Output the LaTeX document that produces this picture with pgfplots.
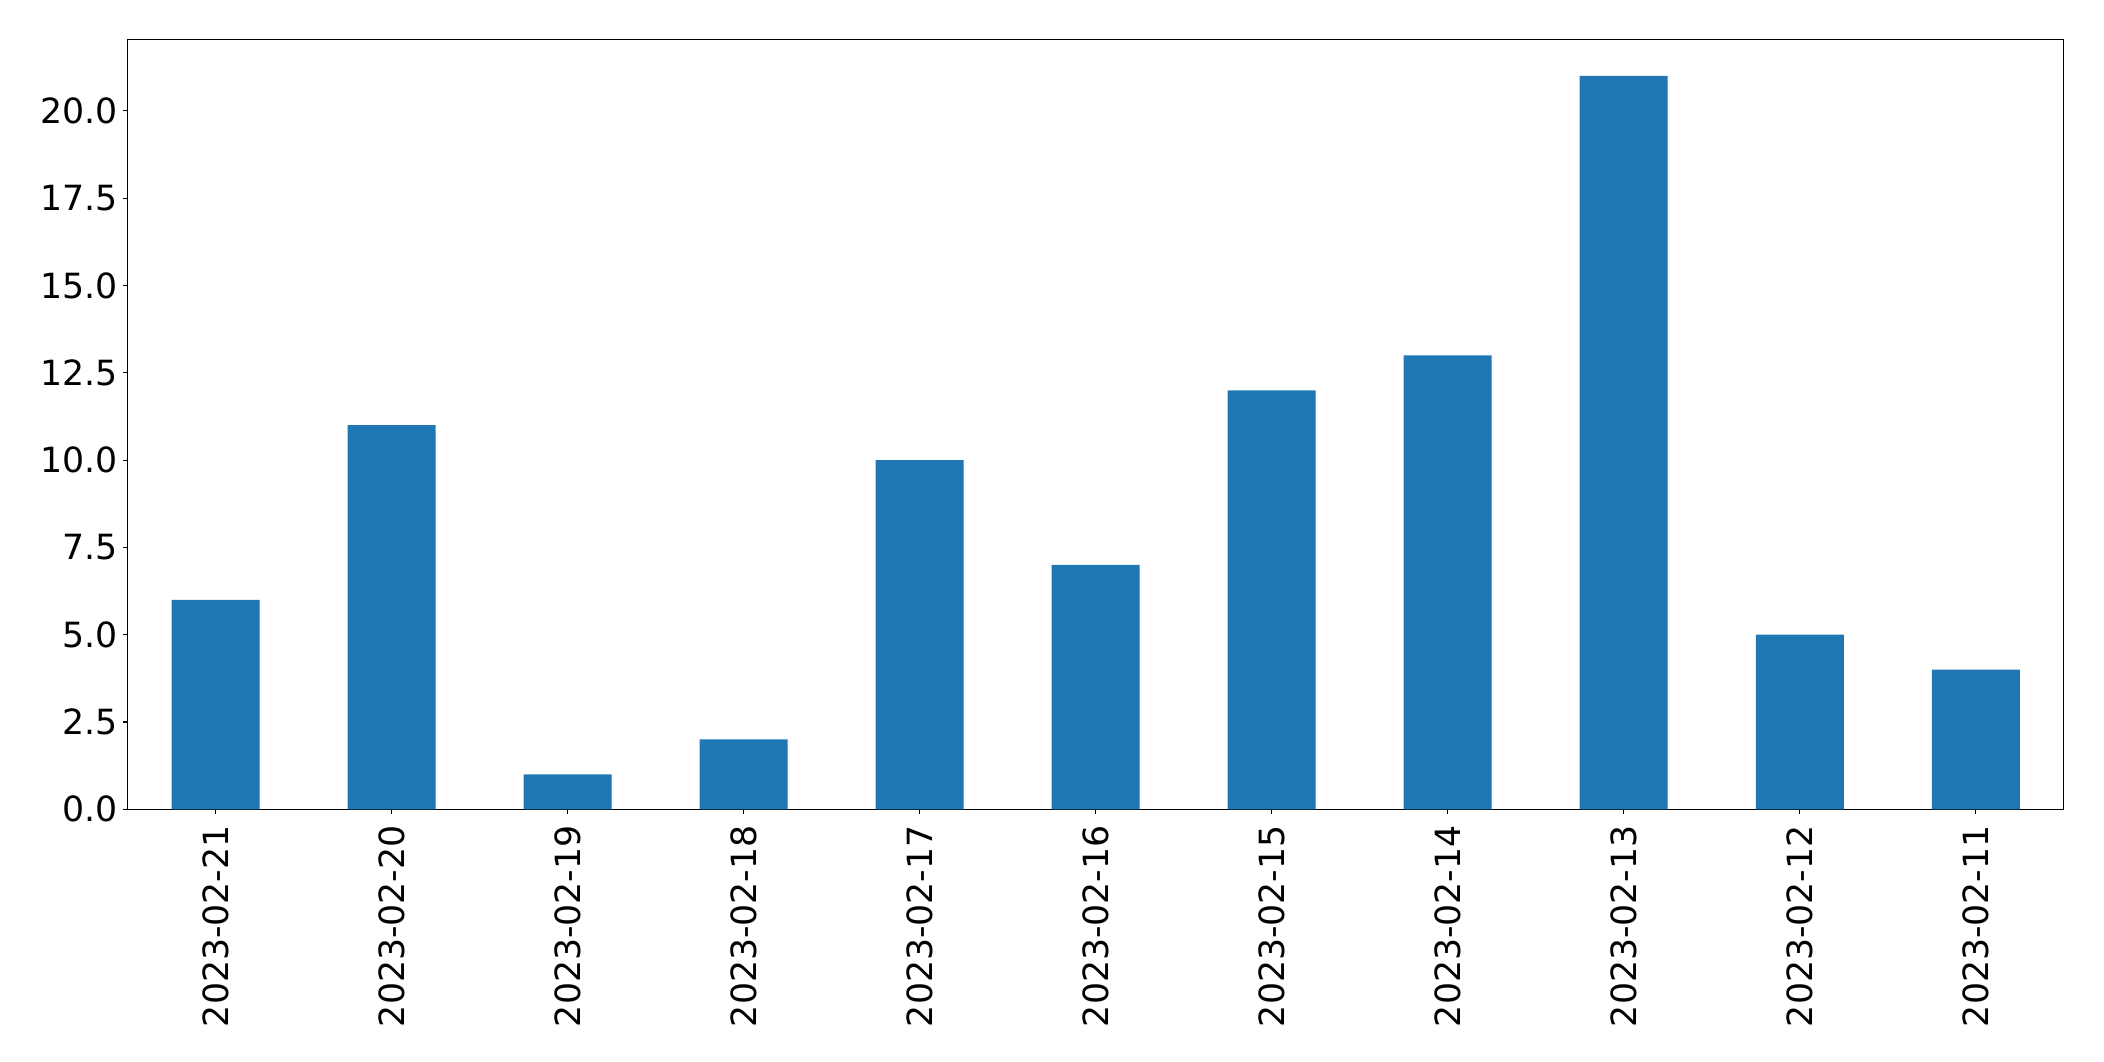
\documentclass[border=0pt]{standalone}
\usepackage{fontspec}
\setmainfont{DejaVu Sans}
\usepackage{pgfplots}
\pgfplotsset{compat=1.18}
\definecolor{mplblue}{HTML}{1F77B4}

\begin{document}
\begin{tikzpicture}
  % page frame, same proportions as the reference
  \useasboundingbox (-91.9pt,-181.44pt) rectangle (1422.98pt,582.7pt);
  \begin{axis}[
      at={(0,0)}, anchor=south west,
      scale only axis,
      width=1394pt, height=554.4pt,
      xmin=-0.5, xmax=10.5,
      ymin=0, ymax=22.05,
      xtick={0,...,10},
      xticklabels={2023-02-21,2023-02-20,2023-02-19,2023-02-18,2023-02-17,2023-02-16,2023-02-15,2023-02-14,2023-02-13,2023-02-12,2023-02-11},
      ytick={0,2.5,...,20},
      /pgf/number format/fixed,
      /pgf/number format/fixed zerofill,
      /pgf/number format/precision=1,
      /pgf/number format/assume math mode=true,
      tick label style={font=\fontsize{25}{29}\selectfont, black},
      xticklabel style={rotate=90, anchor=east, inner sep=0pt, outer sep=0pt, xshift=-8pt},
      yticklabel style={inner sep=0pt, xshift=-3.5pt},
      tick align=outside, tick pos=left,
      major tick length=3.5pt,
      every tick/.style={black, line width=0.8pt},
      axis line style={line width=0.8pt},
      ybar, bar width=0.5,
  ]
  \addplot[fill=mplblue, draw=none] coordinates {
      (0,6)(1,11)(2,1)(3,2)(4,10)(5,7)(6,12)(7,13)(8,21)(9,5)(10,4)
  };
  \end{axis}
\end{tikzpicture}
\end{document}
